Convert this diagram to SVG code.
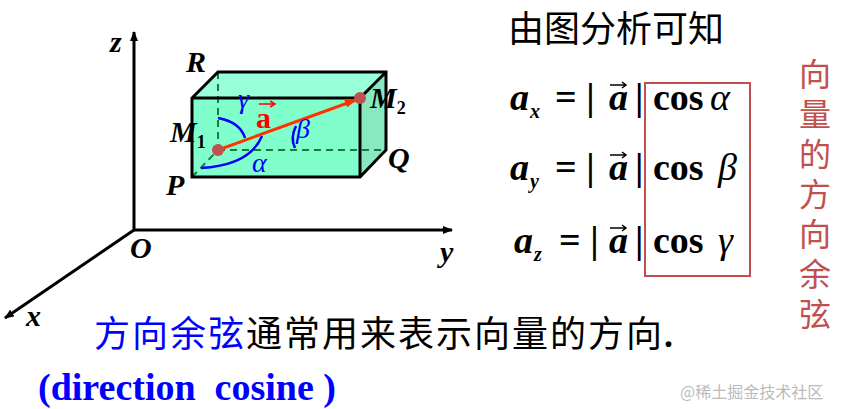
<svg xmlns="http://www.w3.org/2000/svg" width="843" height="409" viewBox="0 0 843 409">
<defs>
<marker id="ah" markerWidth="10" markerHeight="8" refX="9" refY="4" orient="auto" markerUnits="userSpaceOnUse"><path d="M0,0 L10,4 L0,8 z" fill="#000"/></marker>
<marker id="ar" markerWidth="12" markerHeight="8" refX="11" refY="4" orient="auto" markerUnits="userSpaceOnUse"><path d="M0,0 L12,4 L0,8 z" fill="#ff3300"/></marker>
<style>
.ax{stroke:#000;stroke-width:3;fill:none}
.ed{stroke:#000;stroke-width:3;fill:none}
.dash{stroke:#1a7a40;stroke-width:2;stroke-dasharray:7,5;fill:none}
.lbl{font-family:"Liberation Serif",serif;font-style:italic;font-weight:bold;font-size:30px}
.gr{font-family:"Liberation Serif",serif;font-style:italic;font-size:28px;fill:#0000ff}
.eq{font-family:"Liberation Serif",serif;font-weight:bold;font-size:38px}
.it{font-style:italic}
.sub{font-family:"Liberation Serif",serif;font-weight:bold;font-style:italic;font-size:20px}
.cn{font-family:"Noto Sans CJK SC",sans-serif;font-size:36px}
.vr{font-family:"Noto Sans CJK SC",sans-serif;font-size:32px;fill:#c0504d}
</style>
</defs>
<g id="connectors">
<line class="ax" x1="134" y1="231" x2="134" y2="32" marker-end="url(#ah)"/>
<line class="ax" x1="133" y1="230" x2="452" y2="230" marker-end="url(#ah)"/>
<line class="ax" x1="134" y1="230" x2="5" y2="318" marker-end="url(#ah)"/>
</g>
<g id="box">
<polygon points="192,98 218,72 386,72 360,98" fill="#99ffd8"/>
<rect x="192" y="98" width="168" height="79" fill="#80ffcc"/>
<polygon points="360,98 386,72 386,150 360,177" fill="#88e8c0"/>
<line class="dash" x1="218" y1="72" x2="218" y2="150"/>
<line class="dash" x1="218" y1="150" x2="386" y2="150"/>
<line class="dash" x1="192" y1="177" x2="218" y2="150"/>
<path class="ed" d="M192,177 L192,98 L218,72 L386,72 L386,150 L360,177 Z M192,98 L360,98 L386,72 M360,98 L360,177"/>
</g>
<g id="angles" fill="none" stroke="#0000ff" stroke-width="2.5">
<path d="M218,118 Q240,122 245,138"/>
<path d="M201,168 Q250,165 262,136"/>
<path d="M296,126 Q290,138 295,148"/>
</g>
<g id="vector">
<line x1="218" y1="150" x2="356" y2="100" stroke="#ff3300" stroke-width="3" marker-end="url(#ar)"/>
<circle cx="218" cy="150" r="6" fill="#c0504d"/>
<circle cx="360" cy="98" r="6" fill="#c0504d"/>
<text x="256" y="128" font-family="Liberation Serif,serif" font-weight="bold" font-size="30" fill="#ff0000">a</text>
<line x1="259" y1="104" x2="273" y2="104" stroke="#ff0000" stroke-width="1.5"/>
<path d="M270,101 L275,104 L270,107" fill="none" stroke="#ff0000" stroke-width="1.5"/>
</g>
<g id="labels">
<text class="lbl" x="110" y="52">z</text>
<text class="lbl" x="186" y="72">R</text>
<text class="lbl" x="170" y="142">M<tspan font-size="18" dy="6" font-style="normal">1</tspan></text>
<text class="lbl" x="370" y="108">M<tspan font-size="18" dy="6" font-style="normal">2</tspan></text>
<text class="lbl" x="388" y="168">Q</text>
<text class="lbl" x="166" y="195">P</text>
<text class="lbl" x="130" y="258">O</text>
<text class="lbl" x="440" y="262">y</text>
<text class="lbl" x="26" y="326">x</text>
<text class="gr" x="238" y="108">γ</text>
<text class="gr" x="296" y="138">β</text>
<text class="gr" x="252" y="172">α</text>
</g>
<g id="right">
<text class="cn" x="508" y="42" font-size="38">由图分析可知</text>
<g class="eq">
<text x="510" y="110" class="it">a</text><text x="530" y="118" class="sub">x</text>
<text x="555" y="110">= |</text><text x="609" y="110" class="it">a</text><text x="635" y="110">|</text><text x="653" y="110">cos</text><text x="710" y="110" class="it" font-weight="normal">α</text>
<text x="510" y="180" class="it">a</text><text x="530" y="188" class="sub">y</text>
<text x="555" y="180">= |</text><text x="609" y="180" class="it">a</text><text x="635" y="180">|</text><text x="653" y="180">cos</text><text x="718" y="180" class="it" font-weight="normal">β</text>
<text x="514" y="253" class="it">a</text><text x="534" y="261" class="sub">z</text>
<text x="559" y="253">= |</text><text x="609" y="253" class="it">a</text><text x="635" y="253">|</text><text x="653" y="253">cos</text><text x="718" y="253" class="it" font-weight="normal">γ</text>
</g>
<g stroke="#000" stroke-width="1.5" fill="none">
<path d="M610,85 L626,85 M622,82 L626,85 L622,88"/>
<path d="M610,155 L626,155 M622,152 L626,155 L622,158"/>
<path d="M610,228 L626,228 M622,225 L626,228 L622,231"/>
</g>
<rect x="645" y="83" width="105" height="193" fill="none" stroke="#c0504d" stroke-width="2"/>
<text class="vr" x="799" y="86">向</text>
<text class="vr" x="799" y="126">量</text>
<text class="vr" x="799" y="166">的</text>
<text class="vr" x="799" y="206">方</text>
<text class="vr" x="799" y="246">向</text>
<text class="vr" x="799" y="286">余</text>
<text class="vr" x="799" y="326">弦</text>
</g>
<g id="bottom">
<text class="cn" x="94" y="347" font-size="39" letter-spacing="2"><tspan fill="#0000ff">方向余弦</tspan>通常用来表示向量的方向<tspan font-family="Liberation Serif,serif" font-weight="bold">.</tspan></text>
<text x="38" y="400" font-family="Liberation Serif,serif" font-weight="bold" font-size="38" fill="#0000ff" xml:space="preserve">(direction  cosine )</text>
<text x="680" y="398" font-family="Noto Sans CJK SC,sans-serif" font-size="16" fill="#bbbbbb">@稀土掘金技术社区</text>
</g>
</svg>
